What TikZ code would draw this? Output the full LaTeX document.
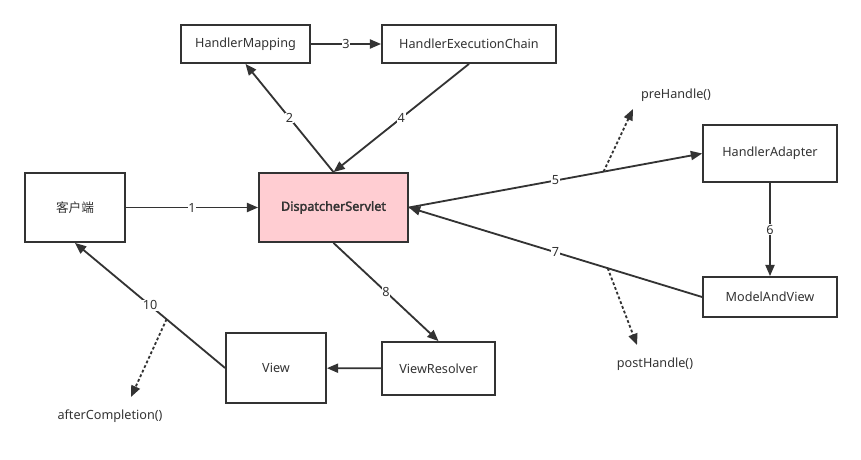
\documentclass[tikz,border=0pt]{standalone}
\usepackage{fontspec}
\setmainfont{Noto Sans}
\newfontfamily\cjk{Noto Sans CJK SC}
\newfontfamily\heavy{Noto Sans}[FakeBold=2.2]
\usetikzlibrary{arrows.meta}
\definecolor{ink}{HTML}{333333}
\definecolor{pink}{HTML}{FFCDD2}
\newcommand{\px}{0.025cm}

\begin{document}
\begin{tikzpicture}[x=\px, y=-\px, font=\fontsize{9}{11}\selectfont, text=ink,
  box/.style={draw=ink, line width=1.3pt, fill=white, inner sep=0pt},
  flow/.style={draw=ink, line width=1.3pt, -{Triangle[length=8pt,width=6.5pt]}},
  hook/.style={flow, dash pattern=on 2pt off 1.6pt},
  num/.style={fill=white, inner sep=0.6pt}]
 \useasboundingbox (0,0) rectangle (861,460);

 % boxes
 \node[box, minimum width=129*\px, minimum height=38*\px] (mapping) at (245.5,44) {HandlerMapping};
 \node[box, minimum width=174*\px, minimum height=38*\px] (chain) at (469,44) {HandlerExecutionChain};
 \node[box, minimum width=100*\px, minimum height=69*\px] (client) at (75,207.5) {\cjk 客户端};
 \node[box, fill=pink, minimum width=149*\px, minimum height=69*\px] (dispatcher) at (333.5,207.5) {\heavy DispatcherServlet};
 \node[box, minimum width=134*\px, minimum height=57*\px] (adapter) at (770,153.5) {HandlerAdapter};
 \node[box, minimum width=134*\px, minimum height=40*\px] (mav) at (770,297) {ModelAndView};
 \node[box, minimum width=113*\px, minimum height=53*\px] (resolver) at (438.5,368.5) {ViewResolver};
 \node[box, minimum width=100*\px, minimum height=70*\px] (view) at (276,368) {View};

 % steps
 \draw[flow] (client) -- node[num] {1} (dispatcher);
 \draw[flow] (dispatcher.north) -- node[num] {2} (mapping.south);
 \draw[flow] (mapping) -- node[num] {3} (chain);
 \draw[flow] (chain.south) -- node[num] {4} (dispatcher.north);
 \draw[flow] (dispatcher.east) -- node[num] {5} coordinate[pos=0.664] (pre) (adapter.west);
 \draw[flow] (adapter) -- node[num] {6} (mav);
 \draw[flow] (mav.west) -- node[num] {7} coordinate[pos=0.322] (post) (dispatcher.east);
 \draw[flow] (dispatcher.south) -- node[num] {8} (resolver.north);
 \draw[flow] (resolver) -- (view);
 \draw[flow] (view.west) -- node[num] {10} coordinate[pos=0.39] (after) (client.south);

 % interceptor hooks
 \coordinate (preEnd) at (633,109);
 \coordinate (postEnd) at (637,345);
 \coordinate (afterEnd) at (131,397);
 \draw[hook] (pre) -- (preEnd);
 \draw[hook] (post) -- (postEnd);
 \draw[hook] (after) -- (afterEnd);
 \node (preText) at (676,95) {preHandle()};
 \node (postText) at (655,364) {postHandle()};
 \node (afterText) at (110,416) {afterCompletion()};
\end{tikzpicture}
\end{document}
